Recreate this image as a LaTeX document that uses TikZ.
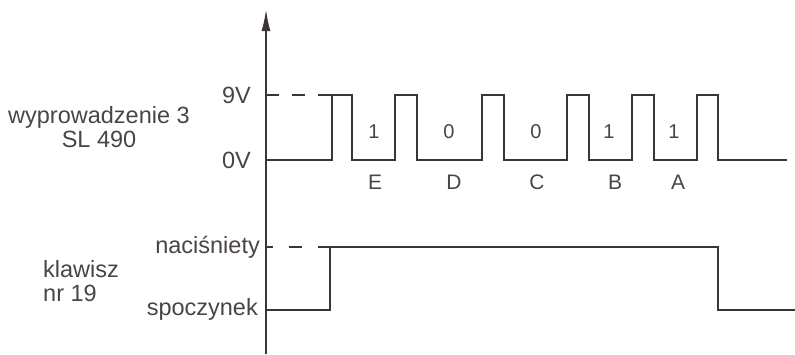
\documentclass[tikz,border=0pt]{standalone}
\usepackage{fontspec}
\setsansfont{Liberation Sans}
\usetikzlibrary{arrows.meta}
\definecolor{ink}{RGB}{61,53,53}
\definecolor{txt}{RGB}{74,68,68}
\begin{document}
\begin{tikzpicture}[
        x=1pt, y=-1pt,
        label/.style = {inner sep=0pt, text=txt, font=\sffamily\fontsize{23.5}{26}\selectfont},
        bit/.style = {label, font=\sffamily\fontsize{20}{24}\selectfont},
        letter/.style = {label, font=\sffamily\fontsize{21}{24}\selectfont},
        wave/.style = {draw=ink, line width=2pt, line join=miter},
        level/.style = {wave, dash pattern=on 13pt off 13pt},
        axis/.style = {draw=ink, line width=2pt, -{Latex[length=22pt, width=9pt]}}
    ]
    \useasboundingbox (0,0) rectangle (795,354);

    % ================= EJE =================
    \coordinate (axbot) at (266,354);
    \coordinate (axtop) at (266,9);
    \draw[axis] (axbot) -- (axtop);

    % ================= PARTE SUPERIOR: WYPROWADZENIE 3 =================
    \node[label, align=center] (pin) at (99,127) {wyprowadzenie 3\\[-2pt]SL 490};
    \node[label, anchor=east] (high) at (251,95) {9V};
    \node[label, anchor=east] (low) at (251,160) {0V};

    \coordinate (hi0) at (266,95);
    \coordinate (hi1) at (332,95);
    \draw[level] (hi0) -- (hi1);

    \coordinate (lo0) at (266,160);
    \draw[wave] (lo0) -- (332,160) -- (332,95) -- (352,95) -- (352,160)
        -- (395,160) -- (395,95) -- (417,95) -- (417,160)
        -- (482,160) -- (482,95) -- (504,95) -- (504,160)
        -- (567,160) -- (567,95) -- (589,95) -- (589,160)
        -- (632,160) -- (632,95) -- (654,95) -- (654,160)
        -- (697,160) -- (697,95) -- (718,95) -- (718,160) -- (787,160);

    % bity
    \node[bit] (bitE) at (374,132) {1};
    \node[bit] (bitD) at (449,132) {0};
    \node[bit] (bitC) at (536,132) {0};
    \node[bit] (bitB) at (609,132) {1};
    \node[bit] (bitA) at (674,132) {1};

    \node[letter] (letE) at (375,182) {E};
    \node[letter] (letD) at (454,182) {D};
    \node[letter] (letC) at (537,182) {C};
    \node[letter] (letB) at (615,182) {B};
    \node[letter] (letA) at (678,182) {A};

    % ================= PARTE INFERIOR: KLAWISZ =================
    \node[label, anchor=west, align=left] (key) at (43,281) {klawisz\\[-2pt]nr 19};
    \node[label, anchor=east] (pressed) at (260,247) {naciśniety};
    \node[label, anchor=east] (rest) at (258,309) {spoczynek};

    \coordinate (pr0) at (266,247);
    \coordinate (pr1) at (330,247);
    \draw[level, dash pattern=on 13pt off 16pt, dash phase=6pt] (pr0) -- (pr1);

    \coordinate (rs0) at (266,310);
    \draw[wave] (rs0) -- (330,310) -- (330,247) -- (718,247) -- (718,310) -- (795,310);

\end{tikzpicture}
\end{document}
